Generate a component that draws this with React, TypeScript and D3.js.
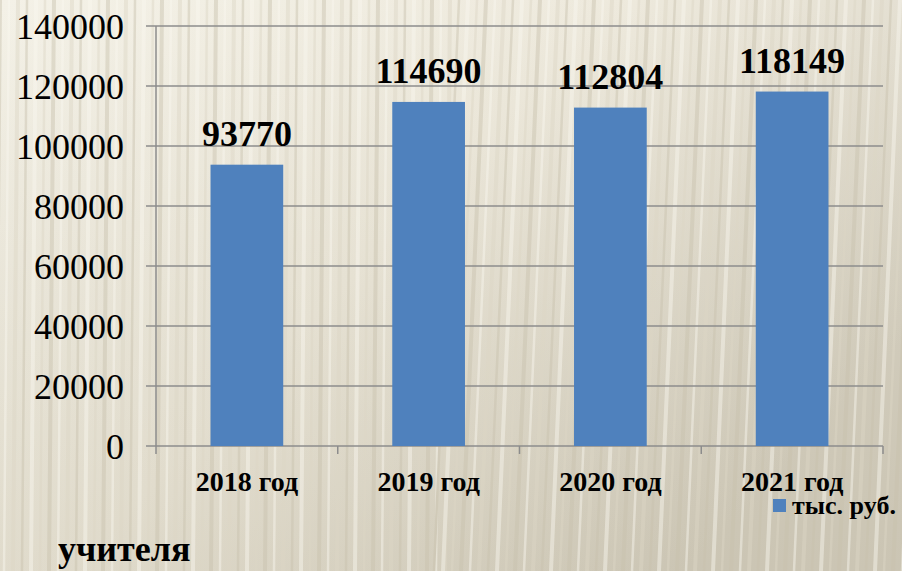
import React from "react";
import * as d3 from "d3";

const categories = ["2018 год", "2019 год", "2020 год", "2021 год"];
const values = [93770, 114690, 112804, 118149];
const yTicks = [0, 20000, 40000, 60000, 80000, 100000, 120000, 140000];
const seriesName = "тыс. руб.";
const footerText = "учителя";

const W = 902;
const H = 571;

export default function App() {
  const x0 = 156;
  const x1 = 883;
  const yTop = 26;
  const yBottom = 446;
  const x = d3.scaleBand<string>().domain(categories).range([x0, x1]).paddingInner(0.6).paddingOuter(0.3);
  const xb = d3.scaleBand<string>().domain(categories).range([x0, x1]);
  const y = d3.scaleLinear().domain([0, 140000]).range([yBottom, yTop]);
  const stripes = d3.range(0, W + 40, 9);
  return (
    <svg
      width={W}
      height={H}
      style={{ display: "block", position: "absolute", left: 0, top: 0, fontFamily: "Liberation Serif" }}
    >
      <defs>
        <linearGradient id="bg" x1="0" y1="0" x2="1" y2="0.6">
          <stop offset="0" stopColor="#f2efe3" />
          <stop offset="0.5" stopColor="#ebe6d7" />
          <stop offset="1" stopColor="#d4cebd" />
        </linearGradient>
        <linearGradient id="bgv" x1="0" y1="0" x2="0" y2="1">
          <stop offset="0" stopColor="#ffffff" stopOpacity="0.15" />
          <stop offset="1" stopColor="#8a8370" stopOpacity="0.12" />
        </linearGradient>
      </defs>
      <rect x={0} y={0} width={W} height={H} fill="url(#bg)" />
      <rect x={0} y={0} width={W} height={H} fill="url(#bgv)" />
      <g opacity={0.45}>
        {stripes.map((sx, i) => (
          <line
            key={i}
            x1={sx}
            y1={0}
            x2={sx - (sx > 450 ? 25 : 5)}
            y2={H}
            stroke={i % 3 === 0 ? "#c9c2ae" : i % 3 === 1 ? "#faf8f0" : "#ddd7c6"}
            strokeWidth={i % 2 === 0 ? 4 : 2.5}
          />
        ))}
      </g>
      {yTicks.map((t) => (
        <g key={t}>
          <line x1={x0 - 10} x2={x1} y1={y(t)} y2={y(t)} stroke="#8c8c8c" strokeWidth={1.5} />
          <text x={124} y={y(t) + 13} textAnchor="end" style={{ fontFamily: "Liberation Serif", fontSize: "36px" }} fill="#000">
            {t}
          </text>
        </g>
      ))}
      <line x1={x0} x2={x0} y1={yTop} y2={yBottom} stroke="#8c8c8c" strokeWidth={1.5} />
      {categories.map((c) => (
        <line key={c} x1={xb(c)! + xb.bandwidth()} x2={xb(c)! + xb.bandwidth()} y1={yBottom} y2={yBottom + 8} stroke="#8c8c8c" strokeWidth={1.5} />
      ))}
      <line x1={x0} x2={x0} y1={yBottom} y2={yBottom + 8} stroke="#8c8c8c" strokeWidth={1.5} />
      {categories.map((c, i) => (
        <g key={c}>
          <rect x={x(c)} y={y(values[i])} width={x.bandwidth()} height={yBottom - y(values[i])} fill="#4f81bd" />
          <text
            x={x(c)! + x.bandwidth() / 2}
            y={y(values[i]) - 19}
            textAnchor="middle"
            style={{ fontFamily: "Liberation Serif", fontSize: "36px", fontWeight: 700 }}
            fill="#000"
          >
            {values[i]}
          </text>
          <text
            x={x(c)! + x.bandwidth() / 2}
            y={491}
            textAnchor="middle"
            style={{ fontFamily: "Liberation Serif", fontSize: "28px", fontWeight: 700 }}
            fill="#000"
          >
            {c}
          </text>
        </g>
      ))}
      <rect x={773} y={499} width={13} height={13} fill="#4f81bd" />
      <text x={792} y={514} style={{ fontFamily: "Liberation Serif", fontSize: "26px", fontWeight: 700 }} fill="#000">
        {seriesName}
      </text>
      <text x={58} y={561} style={{ fontFamily: "Liberation Serif", fontSize: "36px", fontWeight: 700 }} fill="#000">
        {footerText}
      </text>
    </svg>
  );
}
